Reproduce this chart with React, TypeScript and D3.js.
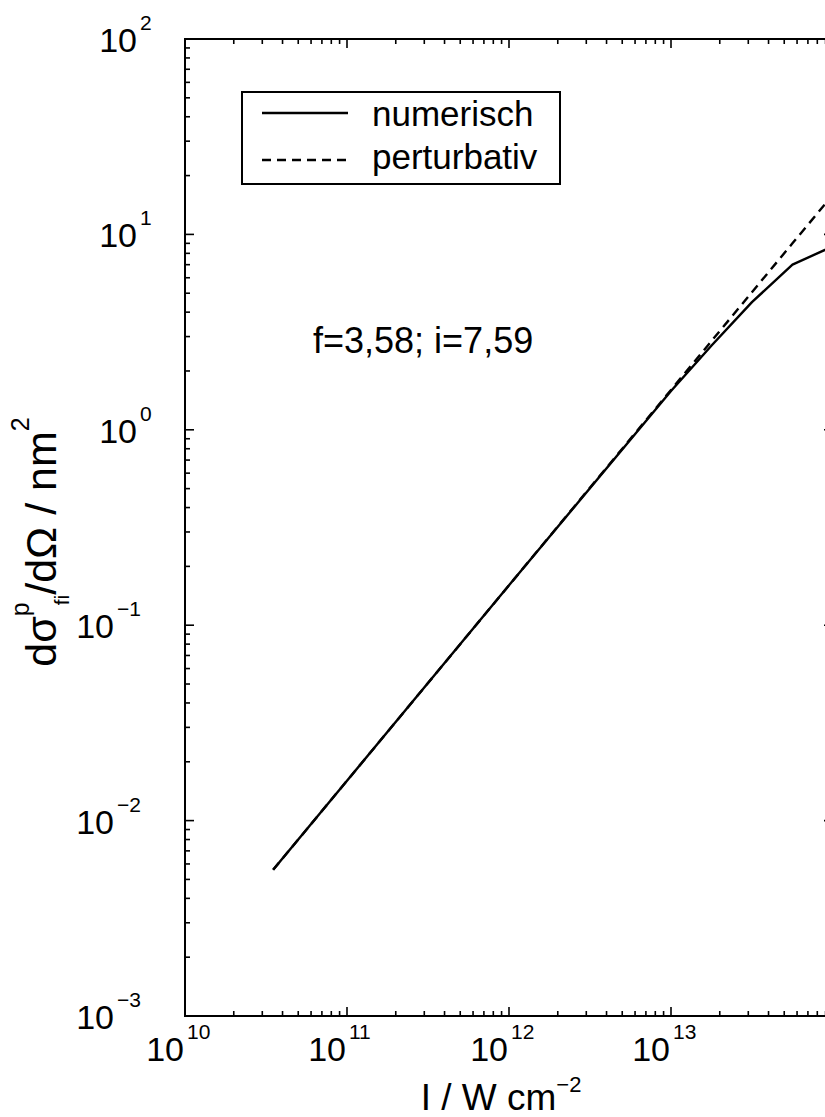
import * as d3 from "d3";

// Intensity samples (W cm^-2) and cross sections (nm^2)
const intensity = [3.5e10, 1e11, 1e12, 1e13, 1.78e13, 3.16e13, 5.62e13, 1e14];
const numerisch = [5.6e-3, 1.6e-2, 0.16, 1.58, 2.7, 4.5, 7.0, 8.7];
const perturbativ = [5.6e-3, 1.6e-2, 0.16, 1.6, 2.85, 5.06, 9.0, 16];

const xExponents = [10, 11, 12, 13];
const yExponents = [2, 1, 0, -1, -2, -3];
const annotation = "f=3,58; i=7,59";
const legendLabels = ["numerisch", "perturbativ"];

const W = 825, H = 1117;
const m = { left: 185, right: 833, top: 39, bottom: 1016 };
const FONT = "'Liberation Sans', Arial, sans-serif";
const MAJOR = 9, MINOR = 5;

export default function App() {
  const x = d3.scaleLog().domain([1e10, 1e14]).range([m.left, m.right]);
  const y = d3.scaleLog().domain([1e-3, 1e2]).range([m.bottom, m.top]);

  const isMajor = (v: number) => Math.abs(Math.log10(v) - Math.round(Math.log10(v))) < 1e-9;
  const xt = x.ticks();
  const yt = y.ticks();

  const line = d3.line<number>()
    .x((_, i) => x(intensity[i]))
    .y(d => y(d));

  const minus = (e: number) => (e < 0 ? "\u2212" + Math.abs(e) : String(e));

  return (
    <svg width={W} height={H} style={{ position: "absolute", left: 0, top: 0, background: "#fff" }} fontFamily={FONT}>
      <defs>
        <clipPath id="plot">
          <rect x={m.left} y={m.top} width={m.right - m.left} height={m.bottom - m.top} />
        </clipPath>
      </defs>

      {/* frame */}
      <rect x={m.left} y={m.top} width={m.right - m.left} height={m.bottom - m.top}
        fill="none" stroke="#000" strokeWidth={2} />

      {/* x ticks, bottom + top */}
      {xt.map((v, i) => {
        const len = isMajor(v) ? MAJOR : MINOR;
        const px = x(v);
        return (
          <g key={"xt" + i} stroke="#000" strokeWidth={1.6}>
            <line x1={px} x2={px} y1={m.bottom} y2={m.bottom - len} />
            <line x1={px} x2={px} y1={m.top} y2={m.top + len} />
          </g>
        );
      })}

      {/* y ticks, left + right */}
      {yt.map((v, i) => {
        const len = isMajor(v) ? MAJOR : MINOR;
        const py = y(v);
        return (
          <g key={"yt" + i} stroke="#000" strokeWidth={1.6}>
            <line x1={m.left} x2={m.left + len} y1={py} y2={py} />
            <line x1={m.right} x2={m.right - len} y1={py} y2={py} />
          </g>
        );
      })}

      {/* x tick labels */}
      {xExponents.map(e => {
        const px = x(Math.pow(10, e));
        return (
          <g key={"xl" + e}>
            <text x={px - 1} y={m.bottom + 45} fontSize={34} textAnchor="end">10</text>
            <text x={px + 2} y={m.bottom + 23} fontSize={21}>{minus(e)}</text>
          </g>
        );
      })}

      {/* y tick labels */}
      {yExponents.map(e => {
        const py = y(Math.pow(10, e));
        const shift = e < 0 ? 23 : 0;
        return (
          <g key={"yl" + e}>
            <text x={137 - shift} y={py + 13} fontSize={34} textAnchor="end">10</text>
            <text x={140 - shift} y={py - 9} fontSize={21}>{minus(e)}</text>
          </g>
        );
      })}

      {/* axis titles */}
      <text x={501} y={1110} fontSize={37} textAnchor="middle">
        I / W cm<tspan dy={-18} fontSize={22}>{"\u22122"}</tspan>
      </text>
      <text transform="translate(56,542) rotate(-90)" fontSize={43} textAnchor="middle">
        dσ<tspan dy={-27} fontSize={25}>p</tspan>
        <tspan dy={40} dx={-3} fontSize={21}>fi</tspan>
        <tspan dy={-13}>/dΩ / nm</tspan>
        <tspan dy={-27} fontSize={25}>2</tspan>
      </text>

      {/* data */}
      <g clipPath="url(#plot)" fill="none" stroke="#000" strokeWidth={2.4} strokeLinejoin="round">
        <path d={line(perturbativ) ?? ""} strokeDasharray="9,6" />
        <path d={line(numerisch) ?? ""} />
      </g>

      {/* annotation */}
      <text x={313} y={353} fontSize={36}>{annotation}</text>

      {/* legend */}
      <rect x={242} y={92} width={318} height={92} fill="#fff" stroke="#000" strokeWidth={2} />
      <line x1={262} x2={348} y1={113} y2={113} stroke="#000" strokeWidth={2.4} />
      <line x1={262} x2={348} y1={160} y2={160} stroke="#000" strokeWidth={2.4} strokeDasharray="9,6" />
      <text x={372} y={126} fontSize={35}>{legendLabels[0]}</text>
      <text x={372} y={169} fontSize={35}>{legendLabels[1]}</text>
    </svg>
  );
}
